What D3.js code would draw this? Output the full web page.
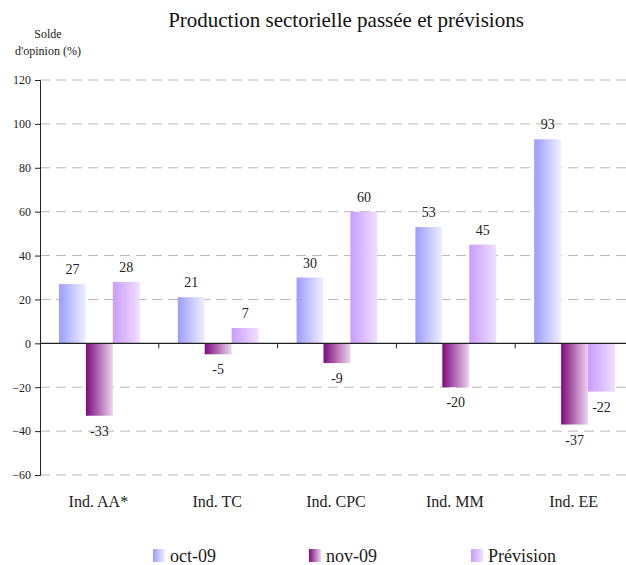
<!DOCTYPE html>
<html><head><meta charset="utf-8">
<script src="https://cdn.jsdelivr.net/npm/d3@7"></script>
<style>body{margin:0;background:#fff;}</style>
</head><body>
<script>
const categories = ["Ind. AA*", "Ind. TC", "Ind. CPC", "Ind. MM", "Ind. EE"];
const seriesNames = ["oct-09", "nov-09", "Prévision"];
const oct09 = [27, 21, 30, 53, 93];
const nov09 = [-33, -5, -9, -20, -37];
const prevision = [28, 7, 60, 45, -22];
const yTicks = [-60, -40, -20, 0, 20, 40, 60, 80, 100, 120];

const W = 626, H = 565;
const FONT = "Liberation Serif";
const svg = d3.select("body").append("svg").attr("width", W).attr("height", H);
const defs = svg.append("defs");
const grads = [["#9c9cff", "#f0f0ff"], ["#7d0a7d", "#ecd6ec"], ["#c89cff", "#f0e0ff"]];
grads.forEach((g, i) => {
  const lg = defs.append("linearGradient").attr("id", "g" + i).attr("x1", 0).attr("x2", 1).attr("y1", 0).attr("y2", 0);
  lg.append("stop").attr("offset", "0%").attr("stop-color", g[0]);
  lg.append("stop").attr("offset", "100%").attr("stop-color", g[1]);
});

const x = d3.scaleBand().domain(categories).range([40, 634]).paddingInner(0).paddingOuter(0);
const y = d3.scaleLinear().domain([-60, 120]).range([475, 80]);
const xs = d3.scaleBand().domain(seriesNames).range([19, x.bandwidth() - 19]).padding(0);

// grid
svg.append("g").selectAll("line").data(yTicks.filter(d => d !== 0)).join("line")
  .attr("x1", 40).attr("x2", W).attr("y1", d => y(d)).attr("y2", d => y(d))
  .attr("stroke", "#b8b8b8").attr("stroke-dasharray", "10,6").attr("stroke-width", 1);

// bars
const series = [oct09, nov09, prevision];
series.forEach((vals, si) => {
  svg.append("g").selectAll("rect").data(vals).join("rect")
    .attr("x", (d, i) => x(categories[i]) + xs(seriesNames[si]))
    .attr("width", xs.bandwidth())
    .attr("y", d => y(Math.max(0, d)))
    .attr("height", d => Math.abs(y(d) - y(0)))
    .attr("fill", `url(#g${si})`);
  svg.append("g").selectAll("text").data(vals).join("text")
    .attr("x", (d, i) => x(categories[i]) + xs(seriesNames[si]) + xs.bandwidth() / 2)
    .attr("y", d => d >= 0 ? y(d) - 10 : y(d) + 20)
    .attr("text-anchor", "middle").attr("font-size", 14).attr("fill", "#222")
    .text(d => d);
});

// y axis
const yAxis = d3.axisLeft(y).tickValues(yTicks).tickSize(5).tickPadding(4);
const ga = svg.append("g").attr("transform", "translate(40,0)").call(yAxis);
ga.attr("font-family", FONT).attr("font-size", 12);
ga.select(".domain").attr("stroke", "#222");
ga.selectAll(".tick line").attr("stroke", "#222");
ga.selectAll("text").attr("fill", "#222");

// zero axis with category ticks
svg.append("line").attr("x1", 40).attr("x2", W).attr("y1", y(0)).attr("y2", y(0)).attr("stroke", "#222").attr("stroke-width", 1.2);
svg.append("g").selectAll("line").data(categories.slice(1)).join("line")
  .attr("x1", d => x(d)).attr("x2", d => x(d)).attr("y1", y(0)).attr("y2", y(0) + 5).attr("stroke", "#222");

// category labels
svg.append("g").selectAll("text").data(categories).join("text")
  .attr("x", d => x(d) + x.bandwidth() / 2 - 1).attr("y", 507)
  .attr("text-anchor", "middle").attr("font-size", 16).attr("fill", "#222").text(d => d);

// title
svg.append("text").attr("x", 346).attr("y", 27).attr("text-anchor", "middle")
  .attr("font-size", 21).attr("fill", "#111").text("Production sectorielle passée et prévisions");
svg.append("text").attr("x", 48).attr("y", 38).attr("text-anchor", "middle").attr("font-size", 12).attr("fill", "#222").text("Solde");
svg.append("text").attr("x", 48).attr("y", 55).attr("text-anchor", "middle").attr("font-size", 12).attr("fill", "#222").text("d'opinion (%)");

// legend
const legX = [153, 309, 471];
seriesNames.forEach((n, i) => {
  svg.append("rect").attr("x", legX[i]).attr("y", 549).attr("width", 12).attr("height", 13).attr("fill", `url(#g${i})`);
  svg.append("text").attr("x", legX[i] + 17).attr("y", 562).attr("font-size", 18).attr("fill", "#222").text(n);
});
svg.selectAll("text").attr("font-family", FONT);
</script>
</body></html>
